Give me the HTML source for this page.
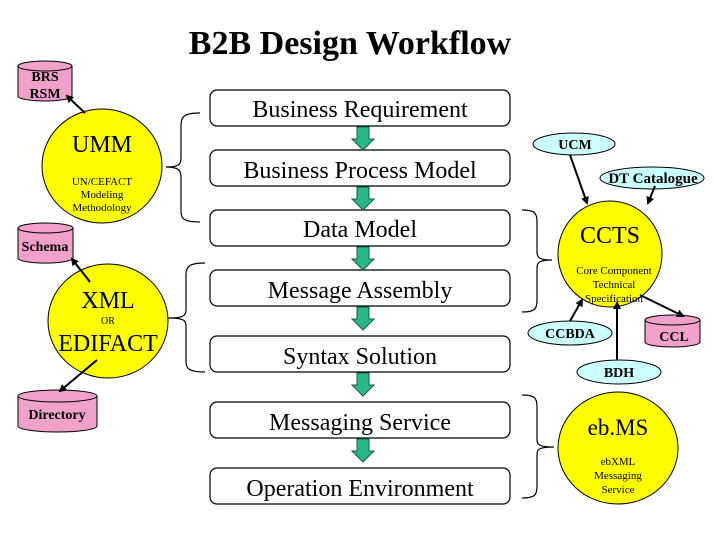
<!DOCTYPE html>
<html><head><meta charset="utf-8"><style>
html,body{margin:0;padding:0;background:#fff;}
svg{display:block;font-family:"Liberation Serif",serif;}
</style></head><body>
<svg width="720" height="540" viewBox="0 0 720 540" xmlns="http://www.w3.org/2000/svg">
<defs>
<marker id="ah" markerWidth="8" markerHeight="8" refX="6" refY="4" orient="auto" markerUnits="userSpaceOnUse">
<path d="M0,0 L8,4 L0,8 Z" fill="#000"/></marker>
<g id="garrow"><path d="M-6,0 H6 V12 H11 L0,23 L-11,12 H-6 Z" fill="#2bb58a" stroke="#1a5a45" stroke-width="1"/></g>
</defs>
<text x="350" y="54" text-anchor="middle" font-size="34" font-weight="bold">B2B Design Workflow</text>

<g fill="#fff" stroke="#000" stroke-width="1.2">
<rect x="210" y="90" width="300" height="36" rx="7"/>
<rect x="210" y="150" width="300" height="36" rx="7"/>
<rect x="210" y="210" width="300" height="36" rx="7"/>
<rect x="210" y="270" width="300" height="36" rx="7"/>
<rect x="210" y="336" width="300" height="36" rx="7"/>
<rect x="210" y="402" width="300" height="36" rx="7"/>
<rect x="210" y="468" width="300" height="36" rx="7"/>
</g>
<g font-size="24" text-anchor="middle">
<text x="360" y="117">Business Requirement</text>
<text x="360" y="178">Business Process Model</text>
<text x="360" y="237">Data Model</text>
<text x="360" y="298">Message Assembly</text>
<text x="360" y="364">Syntax Solution</text>
<text x="360" y="430">Messaging Service</text>
<text x="360" y="496">Operation Environment</text>
</g>
<use href="#garrow" x="363" y="127"/>
<use href="#garrow" x="363" y="187"/>
<use href="#garrow" x="363" y="247"/>
<use href="#garrow" x="363" y="307"/>
<use href="#garrow" x="363" y="373"/>
<use href="#garrow" x="363" y="439"/>

<g fill="none" stroke="#000" stroke-width="1.2">
<path d="M200,113 C185,113 181,116 181,125 V158 C181,165 178,167 166,167 C178,167 181,170 181,177 V212 C181,219 185,222 200,222"/>
<path d="M205,263 C190,263 186,266 186,275 V310 C186,316 183,318 168,318 C183,318 186,320 186,326 V362 C186,369 190,372 205,372"/>
<path d="M522,210 C535,210 537,213 537,222 V252 C537,258 540,260 552,260 C540,260 537,262 537,268 V300 C537,309 535,312 522,312"/>
<path d="M522,395 C535,395 537,398 537,407 V440 C537,445 540,447 554,447 C540,447 537,449 537,454 V486 C537,495 535,498 522,498"/>
</g>

<g fill="#ffff00" stroke="#000" stroke-width="1">
<ellipse cx="102" cy="166" rx="60" ry="57"/>
<ellipse cx="108" cy="321" rx="60" ry="57"/>
<ellipse cx="610" cy="254" rx="52" ry="53"/>
<ellipse cx="618" cy="448" rx="60" ry="56"/>
</g>
<g text-anchor="middle">
<text x="102" y="152" font-size="24">UMM</text>
<text x="102" y="185" font-size="11">UN/CEFACT</text>
<text x="102" y="198" font-size="11">Modeling</text>
<text x="102" y="211" font-size="11">Methodology</text>
<text x="108" y="308" font-size="24">XML</text>
<text x="108" y="324" font-size="10">OR</text>
<text x="108" y="351" font-size="24">EDIFACT</text>
<text x="610" y="243" font-size="24">CCTS</text>
<text x="614" y="274" font-size="11">Core Component</text>
<text x="614" y="288" font-size="11">Technical</text>
<text x="614" y="302" font-size="11">Specification</text>
<text x="618" y="435" font-size="23">eb.MS</text>
<text x="618" y="465" font-size="11">ebXML</text>
<text x="618" y="479" font-size="11">Messaging</text>
<text x="618" y="493" font-size="11">Service</text>
</g>

<g fill="#f2a0cc" stroke="#000" stroke-width="1">
<path d="M18,66 V96 A27,5 0 0 0 72,96 V66"/><ellipse cx="45" cy="66" rx="27" ry="5"/>
<path d="M18,228 V258 A27,5 0 0 0 73,258 V228"/><ellipse cx="45.5" cy="228" rx="27.5" ry="5"/>
<path d="M18,396 V426 A39.5,6 0 0 0 97,426 V396"/><ellipse cx="57.5" cy="396" rx="39.5" ry="6"/>
<path d="M645,320 V342 A27.5,5 0 0 0 700,342 V320"/><ellipse cx="672.5" cy="320" rx="27.5" ry="5"/>
</g>
<g font-size="14" font-weight="bold" text-anchor="middle">
<text x="45" y="81">BRS</text>
<text x="45" y="98">RSM</text>
<text x="45" y="251">Schema</text>
<text x="57" y="419">Directory</text>
<text x="674" y="341">CCL</text>
</g>

<g fill="#ccffff" stroke="#000" stroke-width="1">
<ellipse cx="574" cy="144" rx="41" ry="11"/>
<ellipse cx="652" cy="178" rx="52" ry="11"/>
<ellipse cx="570" cy="333" rx="42" ry="12"/>
<ellipse cx="619" cy="372" rx="42" ry="12"/>
</g>
<g font-size="14" font-weight="bold" text-anchor="middle">
<text x="575" y="149">UCM</text>
<text x="653" y="183" font-size="15">DT Catalogue</text>
<text x="570" y="338">CCBDA</text>
<text x="619" y="377">BDH</text>
</g>

<g stroke="#000" stroke-width="2" marker-end="url(#ah)">
<line x1="85" y1="113" x2="67" y2="96"/>
<line x1="90" y1="282" x2="72" y2="259"/>
<line x1="97" y1="360" x2="60" y2="391"/>
<line x1="570" y1="155" x2="587" y2="203"/>
<line x1="655" y1="186" x2="648" y2="203"/>
<line x1="570" y1="321" x2="582" y2="300"/>
<line x1="617" y1="360" x2="617" y2="303"/>
<line x1="640" y1="295" x2="683" y2="316"/>
</g>
</svg>
</body></html>
